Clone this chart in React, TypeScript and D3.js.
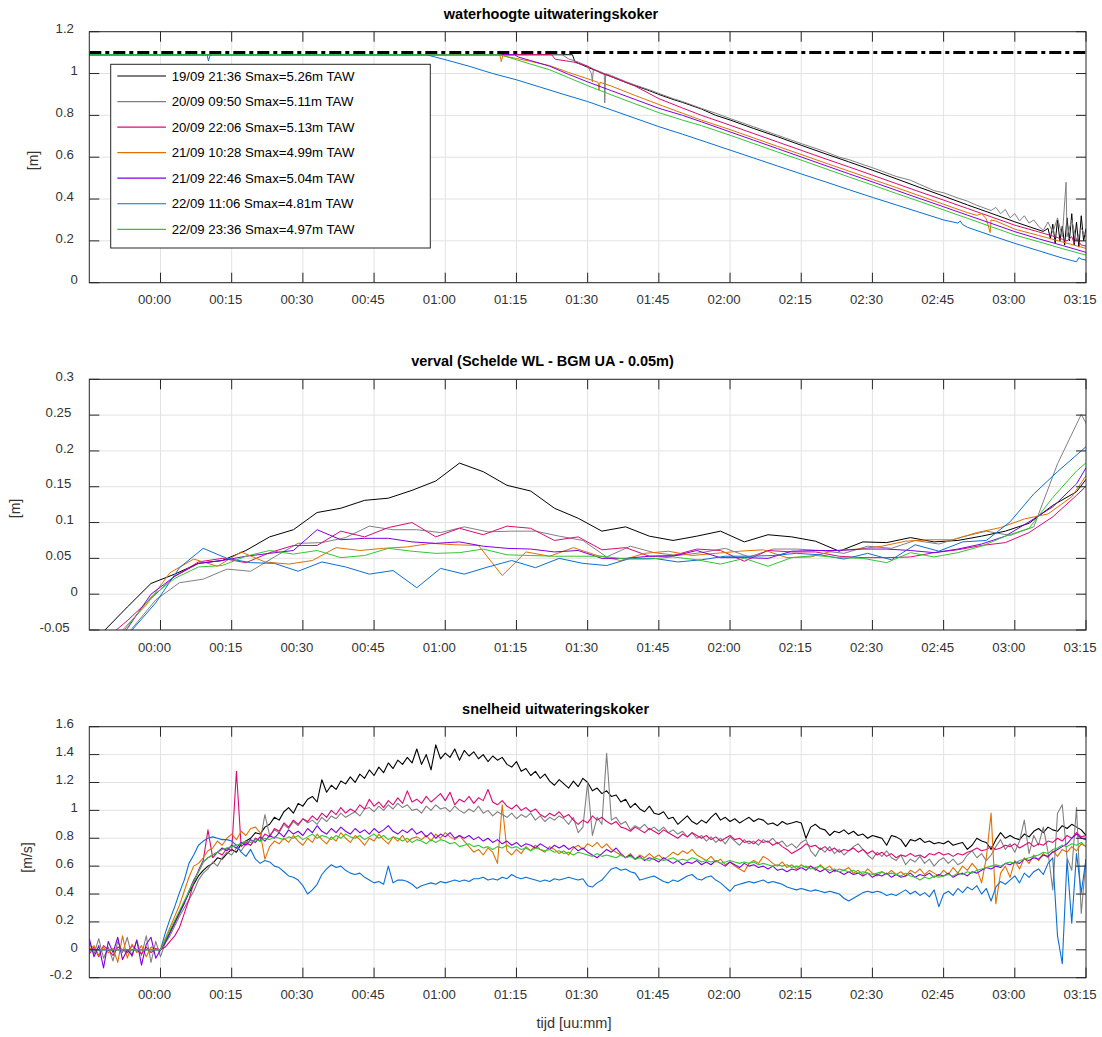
import React from "react";
import * as d3 from "d3";

// ---------------- labels & categories ----------------
const seriesLabels = [
  "19/09 21:36 Smax=5.26m TAW",
  "20/09 09:50 Smax=5.11m TAW",
  "20/09 22:06 Smax=5.13m TAW",
  "21/09 10:28 Smax=4.99m TAW",
  "21/09 22:46 Smax=5.04m TAW",
  "22/09 11:06 Smax=4.81m TAW",
  "22/09 23:36 Smax=4.97m TAW",
];
const seriesColors = ["#000000", "#808080", "#dc0a78", "#e07000", "#8000e0", "#0a6fd4", "#30c830"];

const timeTicks = [0, 15, 30, 45, 60, 75, 90, 105, 120, 135, 150, 165, 180, 195];
const timeTickLabels = ["00:00", "00:15", "00:30", "00:45", "01:00", "01:15", "01:30", "01:45", "02:00", "02:15", "02:30", "02:45", "03:00", "03:15"];
const timeDomain = [-15, 195];

const levelTicks = [0, 0.2, 0.4, 0.6, 0.8, 1, 1.2];
const levelTickLabels = ["0", "0.2", "0.4", "0.6", "0.8", "1", "1.2"];
const vervalTicks = [-0.05, 0, 0.05, 0.1, 0.15, 0.2, 0.25, 0.3];
const vervalTickLabels = ["-0.05", "0", "0.05", "0.1", "0.15", "0.2", "0.25", "0.3"];
const speedTicks = [-0.2, 0, 0.2, 0.4, 0.6, 0.8, 1, 1.2, 1.4, 1.6];
const speedTickLabels = ["-0.2", "0", "0.2", "0.4", "0.6", "0.8", "1", "1.2", "1.4", "1.6"];

const levelLimit = 1.1;

// ---------------- panel 1: waterhoogte [t(min), m] ----------------
const levelBlack: [number, number][] = [[-15,1.09],[86.8,1.09],[87.3,1.057],[90,1.03],[92,1.012],[95,0.985],[98,0.958],[100,0.942],[103,0.918],[105,0.9],[108,0.876],[110,0.862],[114,0.83],[117,0.8],[120,0.778],[125,0.737],[130,0.698],[135,0.657],[140,0.617],[145,0.578],[150,0.538],[155,0.497],[160,0.455],[165,0.414],[170,0.372],[175,0.332],[180,0.291],[183,0.268],[186,0.245],[187,0.26],[187.5,0.21],[188,0.28],[188.5,0.19],[189,0.3],[189.5,0.2],[190,0.27],[190.5,0.18],[191,0.31],[191.5,0.2],[192,0.33],[192.5,0.18],[193,0.29],[193.5,0.17],[194,0.32],[194.5,0.2],[195,0.26]];
const levelGray: [number, number][] = [[-15,1.09],[84.6,1.09],[86,1.07],[88,1.055],[90,1.035],[90.8,1.0],[91,0.96],[91.2,1.02],[92,1.015],[93.5,1.0],[93.6,0.86],[93.8,1.0],[95,0.99],[98,0.962],[100,0.945],[103,0.922],[105,0.905],[108,0.88],[110,0.866],[114,0.833],[117,0.81],[120,0.785],[125,0.745],[130,0.705],[135,0.665],[140,0.627],[143,0.6],[145,0.589],[148,0.565],[150,0.55],[155,0.508],[158,0.49],[160,0.47],[163,0.44],[165,0.43],[168,0.405],[170,0.39],[172,0.37],[175,0.345],[176,0.36],[177,0.33],[178,0.35],[179,0.31],[180,0.33],[181,0.295],[182,0.32],[183,0.285],[184,0.3],[185,0.27],[186,0.25],[187,0.29],[188,0.24],[189,0.31],[190,0.22],[190.8,0.48],[191,0.22],[192,0.3],[193,0.2],[194,0.26],[195,0.22]];
const levelMagenta: [number, number][] = [[-15,1.09],[82.4,1.09],[83.2,1.068],[85,1.062],[87,1.055],[90,1.035],[93,1.0],[95,0.985],[100,0.94],[105,0.88],[110,0.835],[114,0.8],[120,0.753],[125,0.713],[130,0.673],[135,0.633],[140,0.593],[145,0.554],[150,0.514],[155,0.474],[160,0.434],[165,0.395],[170,0.355],[175,0.315],[180,0.275],[185,0.243],[188,0.223],[190,0.208],[191,0.2],[192,0.22],[192.5,0.19],[193,0.21],[194,0.18],[195,0.175]];
const levelOrange: [number, number][] = [[-15,1.09],[71.5,1.09],[71.8,1.057],[72.1,1.085],[75,1.072],[78,1.058],[82,1.038],[86,1.005],[90,0.975],[92.2,0.958],[92.4,0.92],[92.6,0.958],[95,0.94],[100,0.895],[105,0.852],[110,0.81],[114,0.777],[120,0.732],[125,0.692],[130,0.652],[135,0.613],[140,0.573],[145,0.534],[150,0.494],[155,0.455],[160,0.415],[165,0.375],[170,0.335],[172,0.322],[173,0.33],[174,0.305],[174.8,0.24],[175,0.3],[176,0.295],[180,0.256],[185,0.226],[190,0.195],[195,0.164]];
const levelPurple: [number, number][] = [[-15,1.09],[74.6,1.09],[75.5,1.078],[78,1.062],[82,1.035],[86,0.996],[90,0.96],[95,0.918],[100,0.876],[105,0.834],[110,0.8],[114,0.769],[120,0.721],[125,0.681],[130,0.641],[135,0.601],[140,0.561],[145,0.521],[150,0.482],[155,0.442],[160,0.402],[165,0.363],[170,0.323],[175,0.284],[180,0.244],[185,0.21],[190,0.178],[195,0.145]];
const levelBlue: [number, number][] = [[-15,1.09],[9.8,1.09],[10.1,1.06],[10.4,1.085],[11,1.09],[56,1.09],[58,1.078],[61,1.06],[65,1.035],[70,1.0],[75,0.97],[80,0.935],[85,0.9],[90,0.866],[95,0.826],[100,0.786],[105,0.746],[110,0.71],[115,0.672],[120,0.634],[125,0.596],[130,0.558],[135,0.52],[140,0.483],[145,0.445],[150,0.408],[155,0.372],[160,0.336],[165,0.3],[168,0.285],[168.5,0.295],[169,0.278],[170,0.265],[175,0.226],[180,0.188],[185,0.153],[190,0.118],[192,0.106],[193,0.1],[193.5,0.12],[194,0.113],[195,0.108]];
const levelGreen: [number, number][] = [[-15,1.09],[71.5,1.09],[75,1.066],[78,1.045],[82,1.018],[86,0.98],[90,0.942],[95,0.898],[100,0.855],[105,0.813],[110,0.777],[114,0.751],[120,0.705],[125,0.665],[130,0.625],[135,0.586],[140,0.546],[145,0.506],[150,0.467],[155,0.427],[160,0.388],[165,0.348],[170,0.308],[175,0.268],[180,0.228],[185,0.196],[190,0.163],[195,0.132]];

// ---------------- panel 2: verval, one value every 5 minutes ----------------
const vervalStep = 5;
const vervalStart = [-17, -16, -17, -18, -17, -16, -17];
const vervalBlack = [-0.09,-0.052,-0.018,0.015,0.028,0.043,0.047,0.061,0.08,0.09,0.114,0.12,0.131,0.134,0.145,0.158,0.183,0.171,0.152,0.144,0.12,0.106,0.088,0.094,0.081,0.075,0.081,0.088,0.073,0.083,0.08,0.074,0.06,0.073,0.072,0.079,0.073,0.075,0.081,0.088,0.099,0.124,0.143,0.186];
const vervalGray = [-0.13,-0.09,-0.048,-0.008,0.016,0.021,0.035,0.032,0.052,0.071,0.072,0.079,0.095,0.09,0.09,0.086,0.094,0.087,0.088,0.088,0.081,0.075,0.052,0.067,0.058,0.054,0.058,0.064,0.052,0.063,0.063,0.061,0.057,0.067,0.064,0.075,0.07,0.08,0.088,0.082,0.094,0.182,0.251,0.19];
const vervalMagenta = [-0.1,-0.065,-0.037,-0.006,0.025,0.045,0.05,0.044,0.058,0.068,0.068,0.088,0.08,0.093,0.1,0.08,0.092,0.083,0.095,0.092,0.075,0.08,0.062,0.065,0.053,0.054,0.063,0.061,0.046,0.061,0.059,0.059,0.053,0.051,0.051,0.052,0.058,0.062,0.068,0.072,0.086,0.108,0.138,0.17];
const vervalOrange = [-0.12,-0.085,-0.05,-0.015,0.03,0.049,0.039,0.059,0.045,0.042,0.047,0.065,0.061,0.064,0.066,0.071,0.069,0.068,0.026,0.059,0.053,0.065,0.054,0.047,0.057,0.06,0.054,0.057,0.06,0.062,0.051,0.052,0.061,0.063,0.067,0.074,0.076,0.076,0.086,0.093,0.105,0.112,0.136,0.185];
const vervalPurple = [-0.13,-0.09,-0.048,0.0,0.025,0.043,0.047,0.053,0.057,0.061,0.09,0.076,0.078,0.078,0.073,0.071,0.073,0.067,0.064,0.063,0.059,0.061,0.05,0.05,0.053,0.053,0.061,0.051,0.051,0.05,0.06,0.061,0.061,0.063,0.063,0.061,0.058,0.063,0.07,0.081,0.101,0.122,0.154,0.21];
const vervalBlue = [-0.13,-0.09,-0.05,-0.012,0.037,0.064,0.05,0.044,0.043,0.032,0.045,0.038,0.028,0.033,0.009,0.036,0.028,0.038,0.047,0.037,0.05,0.043,0.04,0.05,0.05,0.045,0.048,0.053,0.053,0.054,0.057,0.055,0.049,0.057,0.048,0.069,0.06,0.073,0.075,0.101,0.14,0.171,0.2,0.23];
const vervalGreen = [-0.125,-0.085,-0.045,-0.004,0.022,0.038,0.04,0.053,0.061,0.056,0.061,0.051,0.054,0.064,0.06,0.057,0.058,0.063,0.055,0.054,0.053,0.053,0.053,0.049,0.049,0.052,0.048,0.042,0.05,0.039,0.051,0.054,0.051,0.05,0.044,0.058,0.052,0.058,0.067,0.081,0.092,0.135,0.172,0.2];

// ---------------- panel 3: snelheid, one value per minute from -15 ----------------
const speedStart = -15;
const speedStep = 1;
const speedBlack = [
0,0,0,0,0,0,0,0,0,0,
0,0,0,0,0,0,0.06,0.13,0.2,0.27,
0.34,0.41,0.47,0.53,0.57,0.6,0.62,0.66,0.65,0.69,
0.72,0.7,0.76,0.78,0.8,0.84,0.83,0.88,0.9,0.95,
0.93,0.99,1.02,0.98,1.05,1.03,1.08,1.1,1.06,1.22,
1.13,1.18,1.15,1.21,1.19,1.24,1.2,1.26,1.23,1.29,
1.25,1.31,1.27,1.34,1.3,1.36,1.33,1.38,1.34,1.44,
1.33,1.4,1.29,1.47,1.37,1.41,1.38,1.44,1.36,1.43,
1.39,1.42,1.37,1.4,1.35,1.39,1.36,1.38,1.33,1.31,
1.35,1.28,1.3,1.25,1.28,1.23,1.26,1.21,1.18,1.22,
1.19,1.16,1.21,1.17,1.23,1.2,1.14,1.16,1.12,1.14,
1.1,1.11,1.06,1.08,1.02,1.05,1.01,0.99,1.03,0.98,
0.97,0.99,0.94,0.95,0.9,0.93,0.96,0.92,0.9,0.93,
0.91,0.95,0.98,0.93,0.95,0.92,0.94,0.91,0.93,0.95,
0.92,0.94,0.93,0.9,0.91,0.89,0.92,0.9,0.91,0.92,
0.91,0.8,0.88,0.9,0.87,0.86,0.82,0.85,0.84,0.86,
0.83,0.85,0.82,0.83,0.8,0.82,0.81,0.8,0.75,0.82,
0.81,0.79,0.74,0.79,0.78,0.8,0.77,0.78,0.76,0.77,
0.76,0.78,0.75,0.76,0.77,0.72,0.75,0.8,0.78,0.77,
0.72,0.79,0.84,0.8,0.82,0.8,0.79,0.83,0.81,0.85,
0.87,0.84,0.88,0.86,0.85,0.89,0.87,0.9,0.88,0.86,
0.82];
const speedGray = [
0.05,-0.03,0.08,-0.06,0.02,-0.08,0.06,-0.02,0.09,-0.05,
0.07,-0.04,0.1,-0.09,0.06,-0.05,0.05,0.1,0.17,0.24,
0.3,0.36,0.42,0.5,0.55,0.58,0.63,0.6,0.66,0.7,
0.68,0.73,0.71,0.76,0.75,0.8,0.78,0.97,0.82,0.86,
0.84,0.9,0.87,0.92,0.89,0.94,0.91,0.93,0.9,0.95,
0.92,0.96,0.94,0.98,0.95,0.97,0.99,0.96,1.01,1.02,
0.99,1.03,1.0,1.04,1.01,1.05,1.02,1.04,1.0,1.01,
0.98,1.03,1.0,1.04,1.01,1.02,0.99,1.03,1.0,0.98,
1.01,0.99,1.03,0.98,1.0,0.96,0.99,0.97,0.95,0.98,
0.94,0.97,0.95,0.98,0.93,0.96,0.92,0.95,0.93,0.96,
0.94,0.9,0.95,0.84,0.88,1.2,0.82,0.95,0.9,1.41,
0.93,0.95,0.9,0.92,0.86,0.89,0.87,0.9,0.86,0.88,
0.85,0.88,0.84,0.86,0.83,0.85,0.81,0.84,0.8,0.82,
0.78,0.81,0.77,0.8,0.76,0.81,0.78,0.75,0.79,0.76,
0.78,0.75,0.79,0.77,0.8,0.76,0.78,0.74,0.76,0.73,
0.77,0.79,0.71,0.67,0.73,0.7,0.74,0.69,0.72,0.68,
0.71,0.74,0.76,0.72,0.68,0.65,0.7,0.67,0.71,0.66,
0.64,0.68,0.61,0.65,0.63,0.67,0.62,0.65,0.6,0.64,
0.66,0.62,0.65,0.61,0.63,0.68,0.71,0.66,0.69,0.64,
0.68,0.74,0.79,0.72,0.76,0.7,0.78,0.93,0.69,0.82,
0.75,0.88,0.7,0.43,0.98,1.04,0.66,0.57,1.02,0.26,
0.65];
const speedMagenta = [
-0.03,0.02,-0.05,0.03,0.0,-0.04,0.02,0.0,-0.02,0.03,
0.0,-0.03,0.02,-0.02,0.01,0.0,0.02,0.06,0.1,0.16,
0.26,0.36,0.48,0.57,0.64,0.86,0.66,0.7,0.68,0.73,
0.71,1.28,0.74,0.77,0.75,0.8,0.78,0.83,0.81,0.87,
0.85,0.91,0.88,0.93,0.9,0.94,0.92,0.96,0.93,0.98,
0.95,1.0,0.97,1.02,0.98,1.01,0.99,1.04,1.01,1.08,
1.03,1.06,1.02,1.07,1.04,1.09,1.05,1.14,1.06,1.08,
1.05,1.1,1.06,1.09,1.12,1.07,1.13,1.04,1.08,1.06,
1.1,1.05,1.09,1.07,1.15,1.06,1.04,1.07,1.03,1.01,
1.04,1.0,1.02,0.99,1.01,0.97,0.95,0.98,0.96,0.99,
0.95,0.97,0.93,0.9,0.93,0.91,0.96,0.93,0.95,0.92,
0.9,0.92,0.88,0.87,0.85,0.88,0.86,0.84,0.87,0.85,
0.83,0.86,0.84,0.82,0.8,0.83,0.81,0.84,0.82,0.8,
0.82,0.79,0.81,0.78,0.8,0.82,0.79,0.8,0.77,0.78,
0.76,0.79,0.77,0.78,0.75,0.77,0.74,0.72,0.69,0.71,
0.73,0.76,0.74,0.75,0.72,0.74,0.71,0.73,0.7,0.72,
0.71,0.73,0.7,0.72,0.69,0.71,0.68,0.7,0.67,0.69,
0.66,0.68,0.67,0.69,0.67,0.68,0.66,0.69,0.68,0.7,
0.68,0.69,0.67,0.69,0.68,0.7,0.71,0.73,0.71,0.72,
0.74,0.72,0.73,0.75,0.74,0.76,0.73,0.75,0.77,0.74,
0.76,0.75,0.78,0.77,0.8,0.78,0.82,0.8,0.84,0.81,
0.82];
const speedOrange = [
0.0,0.03,-0.04,0.02,-0.02,0.01,-0.09,0.1,-0.06,0.04,
-0.02,0.03,-0.05,0.02,0.0,0.0,0.08,0.16,0.24,0.32,
0.42,0.52,0.6,0.62,0.66,0.71,0.73,0.78,0.75,0.8,
0.83,0.79,0.85,0.82,0.87,0.88,0.84,0.65,0.74,0.78,
0.76,0.8,0.77,0.82,0.78,0.75,0.8,0.77,0.83,0.79,
0.76,0.81,0.78,0.84,0.8,0.77,0.82,0.79,0.75,0.8,
0.78,0.83,0.79,0.76,0.81,0.78,0.82,0.77,0.8,0.81,
0.79,0.82,0.78,0.83,0.8,0.84,0.81,0.79,0.82,0.78,
0.74,0.7,0.72,0.68,0.73,0.7,0.62,1.04,0.71,0.68,
0.72,0.69,0.74,0.71,0.75,0.72,0.7,0.74,0.72,0.69,
0.71,0.68,0.73,0.75,0.72,0.76,0.74,0.77,0.73,0.76,
0.72,0.7,0.68,0.66,0.69,0.65,0.68,0.66,0.69,0.66,
0.68,0.65,0.67,0.7,0.68,0.71,0.69,0.72,0.68,0.66,
0.64,0.67,0.63,0.65,0.61,0.63,0.6,0.58,0.56,0.62,
0.64,0.62,0.67,0.65,0.62,0.6,0.63,0.59,0.61,0.58,
0.61,0.59,0.6,0.57,0.61,0.58,0.6,0.56,0.58,0.57,
0.59,0.55,0.57,0.54,0.58,0.55,0.53,0.56,0.54,0.57,
0.54,0.56,0.53,0.57,0.55,0.58,0.54,0.57,0.55,0.53,
0.57,0.54,0.59,0.55,0.6,0.57,0.62,0.58,0.48,0.66,
0.98,0.33,0.55,0.6,0.52,0.64,0.58,0.66,0.62,0.68,
0.64,0.69,0.66,0.71,0.67,0.72,0.7,0.74,0.71,0.76,
0.74];
const speedPurple = [
0.08,-0.05,0.03,-0.13,0.06,-0.02,0.09,-0.07,0.0,-0.04,
0.07,-0.11,0.04,0.09,-0.06,0.0,0.05,0.12,0.19,0.26,
0.33,0.42,0.5,0.56,0.63,0.66,0.68,0.7,0.73,0.71,
0.75,0.73,0.77,0.75,0.79,0.77,0.81,0.78,0.82,0.8,
0.84,0.81,0.86,0.83,0.85,0.82,0.87,0.84,0.89,0.85,
0.83,0.87,0.84,0.88,0.85,0.83,0.87,0.84,0.86,0.83,
0.87,0.84,0.86,0.89,0.85,0.83,0.86,0.84,0.87,0.83,
0.85,0.81,0.84,0.8,0.83,0.81,0.84,0.8,0.82,0.8,
0.82,0.79,0.81,0.78,0.8,0.77,0.79,0.76,0.78,0.75,
0.77,0.74,0.76,0.75,0.73,0.76,0.74,0.72,0.75,0.73,
0.75,0.72,0.74,0.71,0.73,0.7,0.68,0.66,0.69,0.72,
0.7,0.73,0.69,0.66,0.68,0.65,0.67,0.64,0.66,0.65,
0.63,0.66,0.64,0.62,0.64,0.61,0.63,0.62,0.64,0.61,
0.63,0.61,0.64,0.62,0.6,0.63,0.61,0.59,0.62,0.6,
0.61,0.59,0.6,0.58,0.6,0.57,0.58,0.56,0.58,0.57,
0.59,0.57,0.6,0.58,0.56,0.58,0.55,0.57,0.56,0.54,
0.56,0.54,0.55,0.53,0.55,0.52,0.54,0.53,0.55,0.52,
0.54,0.52,0.53,0.55,0.52,0.54,0.53,0.55,0.52,0.54,
0.53,0.55,0.52,0.54,0.55,0.53,0.56,0.55,0.57,0.59,
0.58,0.6,0.59,0.62,0.61,0.63,0.62,0.65,0.64,0.66,
0.65,0.68,0.67,0.7,0.72,0.74,0.76,0.8,0.83,0.8,
0.79];
const speedBlue = [
0,0,0,0,0,0,0,0,0,0,
0,0,0,0,0,0,0.12,0.22,0.31,0.41,
0.5,0.62,0.68,0.75,0.78,0.8,0.81,0.8,0.79,0.79,
0.78,0.75,0.7,0.67,0.72,0.65,0.62,0.64,0.63,0.6,
0.59,0.56,0.53,0.52,0.5,0.46,0.4,0.43,0.47,0.54,
0.58,0.61,0.59,0.6,0.57,0.55,0.54,0.55,0.52,0.5,
0.48,0.49,0.47,0.6,0.48,0.5,0.5,0.49,0.47,0.44,
0.46,0.47,0.48,0.47,0.49,0.48,0.49,0.5,0.49,0.5,
0.49,0.51,0.51,0.52,0.5,0.51,0.5,0.52,0.51,0.54,
0.52,0.51,0.52,0.51,0.5,0.49,0.5,0.49,0.51,0.5,
0.51,0.52,0.51,0.5,0.51,0.46,0.45,0.48,0.5,0.54,
0.58,0.59,0.57,0.58,0.56,0.55,0.5,0.51,0.52,0.53,
0.51,0.49,0.48,0.5,0.49,0.51,0.53,0.54,0.51,0.5,
0.52,0.53,0.5,0.48,0.45,0.42,0.46,0.47,0.48,0.49,
0.48,0.49,0.5,0.48,0.49,0.48,0.47,0.45,0.44,0.43,
0.44,0.43,0.42,0.43,0.42,0.41,0.42,0.41,0.4,0.37,
0.35,0.37,0.39,0.41,0.42,0.41,0.42,0.41,0.39,0.4,
0.39,0.41,0.43,0.4,0.42,0.39,0.41,0.38,0.43,0.31,
0.4,0.42,0.39,0.44,0.41,0.45,0.43,0.46,0.4,0.44,
0.35,0.45,0.49,0.47,0.5,0.53,0.48,0.55,0.52,0.56,
0.58,0.54,0.62,0.66,0.1,-0.1,0.65,0.19,0.69,0.41,
0.65];
const speedGreen = [
0,0,0,0,0,0,0,0,0,0,
0,0,0,0,0,0,0.07,0.14,0.21,0.28,
0.35,0.42,0.49,0.56,0.63,0.66,0.68,0.7,0.72,0.73,
0.74,0.75,0.76,0.78,0.77,0.79,0.78,0.8,0.79,0.81,
0.8,0.79,0.81,0.8,0.82,0.79,0.81,0.83,0.8,0.82,
0.81,0.79,0.82,0.8,0.83,0.81,0.8,0.82,0.79,0.81,
0.83,0.8,0.82,0.79,0.81,0.8,0.78,0.8,0.77,0.79,
0.78,0.76,0.79,0.77,0.79,0.78,0.76,0.77,0.74,0.75,
0.76,0.74,0.75,0.73,0.74,0.72,0.74,0.73,0.75,0.73,
0.74,0.72,0.73,0.71,0.73,0.72,0.71,0.72,0.7,0.71,
0.69,0.7,0.68,0.7,0.69,0.68,0.67,0.69,0.67,0.68,
0.67,0.66,0.68,0.66,0.67,0.65,0.66,0.65,0.64,0.66,
0.65,0.64,0.65,0.66,0.64,0.65,0.64,0.66,0.65,0.63,
0.64,0.63,0.64,0.62,0.63,0.64,0.63,0.62,0.63,0.62,
0.63,0.61,0.62,0.61,0.6,0.61,0.6,0.61,0.59,0.6,
0.59,0.6,0.58,0.59,0.6,0.58,0.57,0.58,0.56,0.57,
0.56,0.57,0.55,0.56,0.55,0.54,0.55,0.56,0.54,0.55,
0.54,0.53,0.55,0.53,0.52,0.5,0.52,0.51,0.53,0.52,
0.53,0.54,0.53,0.55,0.54,0.56,0.55,0.57,0.58,0.59,
0.6,0.61,0.6,0.62,0.63,0.62,0.64,0.65,0.66,0.67,
0.68,0.7,0.69,0.72,0.73,0.75,0.74,0.76,0.75,0.77,
0.74];

// ---------------- layout ----------------
const W = 1102;
const H = 1037;
const FONT = "'Liberation Sans', Arial, Helvetica, sans-serif";
const plotLeft = 89.3;
const plotRight = 1086;
const AXIS_COLOR = "#262626";
const TICK_TEXT = "#333333";
const GRID = "#e2e2e2";
const TICK_LEN = 10;
const TICK_FS = 13.2;

const charW: Record<string, number> = { "0": 0.556, "1": 0.556, "2": 0.556, "3": 0.556, "4": 0.556, "5": 0.556, "6": 0.556, "7": 0.556, "8": 0.556, "9": 0.556, ".": 0.278, "-": 0.333, ":": 0.278 };
const textW = (s: string, fs: number) => s.split("").reduce((a, c) => a + (charW[c] ?? 0.556), 0) * fs;

type Series = { pts: [number, number][]; color: string };

const xScale = d3.scaleLinear().domain(timeDomain).range([plotLeft, plotRight]);

function Panel(props: {
  id: string;
  top: number;
  bottom: number;
  yDomain: [number, number];
  yTicks: number[];
  yTickLabels: string[];
  title: string;
  titleX: number;
  yLabel: string;
  yLabelX: number;
  yLabelY: number;
  series: Series[];
  strokeW: number;
  limit?: number;
  legend?: boolean;
}) {
  const { id, top, bottom, yDomain, yTicks, yTickLabels, title, titleX, yLabel, yLabelX, yLabelY, series, strokeW } = props;
  const y = d3.scaleLinear().domain(yDomain).range([bottom, top]);
  const line = d3
    .line<[number, number]>()
    .x((d) => xScale(d[0]))
    .y((d) => y(d[1]));
  const gridX = timeTicks.filter((t) => t < timeDomain[1]);
  return (
    <g>
      <defs>
        <clipPath id={id}>
          <rect x={plotLeft} y={top} width={plotRight - plotLeft} height={bottom - top} />
        </clipPath>
      </defs>
      <rect x={plotLeft} y={top} width={plotRight - plotLeft} height={bottom - top} fill="#ffffff" />
      {/* grid */}
      {gridX.map((t) => (
        <line key={"gx" + t} x1={xScale(t)} x2={xScale(t)} y1={top} y2={bottom} stroke={GRID} strokeWidth={1} />
      ))}
      {yTicks.map((v) => (
        <line key={"gy" + v} x1={plotLeft} x2={plotRight} y1={y(v)} y2={y(v)} stroke={GRID} strokeWidth={1} />
      ))}
      {/* data */}
      <g clipPath={`url(#${id})`}>
        {series.map((s, i) => (
          <path key={i} d={line(s.pts) || ""} fill="none" stroke={s.color} strokeWidth={strokeW} strokeLinejoin="round" />
        ))}
        {props.limit !== undefined && (
          <line x1={plotLeft} x2={plotRight} y1={y(props.limit)} y2={y(props.limit)} stroke="#000" strokeWidth={3} strokeDasharray="12,4,4,4" />
        )}
      </g>
      {/* ticks */}
      {timeTicks.map((t) => (
        <g key={"tx" + t}>
          <line x1={xScale(t)} x2={xScale(t)} y1={bottom} y2={bottom - TICK_LEN} stroke={AXIS_COLOR} strokeWidth={1} />
          <line x1={xScale(t)} x2={xScale(t)} y1={top} y2={top + TICK_LEN} stroke={AXIS_COLOR} strokeWidth={1} />
        </g>
      ))}
      {yTicks.map((v) => (
        <g key={"ty" + v}>
          <line x1={plotLeft} x2={plotLeft + TICK_LEN} y1={y(v)} y2={y(v)} stroke={AXIS_COLOR} strokeWidth={1} />
          <line x1={plotRight} x2={plotRight - TICK_LEN} y1={y(v)} y2={y(v)} stroke={AXIS_COLOR} strokeWidth={1} />
        </g>
      ))}
      <rect x={plotLeft} y={top} width={plotRight - plotLeft} height={bottom - top} fill="none" stroke={AXIS_COLOR} strokeWidth={1} />
      {/* tick labels */}
      {timeTicks.map((t, i) => (
        <text
          key={"lx" + t}
          x={xScale(t) - 0.18 * textW(timeTickLabels[i], TICK_FS)}
          y={bottom + 21.5}
          textAnchor="middle"
          fontSize={TICK_FS}
          fontFamily={FONT}
          fill={TICK_TEXT}
        >
          {timeTickLabels[i]}
        </text>
      ))}
      {yTicks.map((v, i) => (
        <text
          key={"ly" + v}
          x={80.5 - 0.36 * textW(yTickLabels[i], TICK_FS)}
          y={y(v) + 1.7}
          textAnchor="end"
          fontSize={TICK_FS}
          fontFamily={FONT}
          fill={TICK_TEXT}
        >
          {yTickLabels[i]}
        </text>
      ))}
      {/* title */}
      <text x={titleX} y={top - 13} textAnchor="middle" fontSize={14.5} fontWeight="bold" fontFamily={FONT} fill="#000">
        {title}
      </text>
      {/* y label */}
      <text
        transform={`translate(${yLabelX},${yLabelY}) rotate(-90)`}
        textAnchor="middle"
        dy="0.35em"
        fontSize={14}
        fontFamily={FONT}
        fill={TICK_TEXT}
      >
        {yLabel}
      </text>
      {props.legend && <Legend />}
    </g>
  );
}

function Legend() {
  const bx = 110.7, by = 64.3, bw = 319.6, bh = 183.7;
  const y0 = 76, dy = 25.55;
  return (
    <g>
      <rect x={bx} y={by} width={bw} height={bh} fill="#ffffff" stroke={AXIS_COLOR} strokeWidth={1} />
      {seriesLabels.map((lab, i) => (
        <g key={lab}>
          <line x1={117.3} x2={166} y1={y0 + i * dy} y2={y0 + i * dy} stroke={seriesColors[i]} strokeWidth={1.2} />
          <text x={171.7} y={y0 + i * dy + 4.6} fontSize={13.2} fontFamily={FONT} fill="#000">
            {lab}
          </text>
        </g>
      ))}
    </g>
  );
}

export default function App() {
  const levelData = [levelBlack, levelGray, levelMagenta, levelOrange, levelPurple, levelBlue, levelGreen];
  const vervalData = [vervalBlack, vervalGray, vervalMagenta, vervalOrange, vervalPurple, vervalBlue, vervalGreen];
  const speedData = [speedBlack, speedGray, speedMagenta, speedOrange, speedPurple, speedBlue, speedGreen];

  const levelSeries: Series[] = levelData.map((pts, i) => ({ pts, color: seriesColors[i] }));
  const vervalSeries: Series[] = vervalData.map((vals, i) => ({
    pts: vals.map((v, k) => [vervalStart[i] + k * vervalStep, v] as [number, number]),
    color: seriesColors[i],
  }));
  const speedSeries: Series[] = speedData.map((vals, i) => ({
    pts: vals.map((v, k) => [speedStart + k * speedStep, v] as [number, number]),
    color: seriesColors[i],
  }));

  return (
    <svg width={W} height={H} style={{ position: "absolute", left: 0, top: 0, background: "#fff" }}>
      <rect x={0} y={0} width={W} height={H} fill="#ffffff" />
      <Panel
        id="clipLevel"
        top={31.7}
        bottom={282.7}
        yDomain={[0, 1.2]}
        yTicks={levelTicks}
        yTickLabels={levelTickLabels}
        title="waterhoogte uitwateringskoker"
        titleX={551}
        yLabel="[m]"
        yLabelX={33}
        yLabelY={160.5}
        series={levelSeries}
        strokeW={1}
        limit={levelLimit}
        legend
      />
      <Panel
        id="clipVerval"
        top={379.3}
        bottom={630}
        yDomain={[-0.05, 0.3]}
        yTicks={vervalTicks}
        yTickLabels={vervalTickLabels}
        title="verval (Schelde WL - BGM UA - 0.05m)"
        titleX={542.5}
        yLabel="[m]"
        yLabelX={15}
        yLabelY={508.5}
        series={vervalSeries}
        strokeW={1}
      />
      <Panel
        id="clipSpeed"
        top={726.7}
        bottom={977.7}
        yDomain={[-0.2, 1.6]}
        yTicks={speedTicks}
        yTickLabels={speedTickLabels}
        title="snelheid uitwateringskoker"
        titleX={555.6}
        yLabel="[m/s]"
        yLabelX={27}
        yLabelY={857.5}
        series={speedSeries}
        strokeW={1.1}
      />
      <text x={574} y={1028} textAnchor="middle" fontSize={14.5} fontFamily={FONT} fill={TICK_TEXT}>
        tijd [uu:mm]
      </text>
    </svg>
  );
}
